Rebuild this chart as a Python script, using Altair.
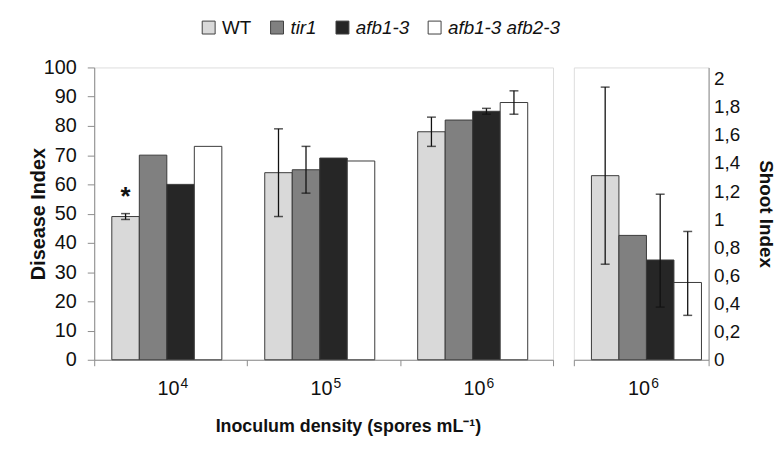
import altair as alt
import pandas as pd

# ---- data ----
genotypes = ["WT", "tir1", "afb1-3", "afb1-3 afb2-3"]
colors = ["#d9d9d9", "#808080", "#262626", "#ffffff"]
densities = ["10⁴", "10⁵", "10⁶"]
density_base = ["10", "10", "10"]
density_exp = ["4", "5", "6"]

disease_wt = [49, 64, 78]
disease_tir1 = [70, 65, 82]
disease_afb = [60, 69, 85]
disease_dbl = [73, 68, 88]

disease_lo_wt = [48, 49, 73]
disease_hi_wt = [50, 79, 83]
disease_lo_tir1 = [None, 57, None]
disease_hi_tir1 = [None, 73, None]
disease_lo_afb = [None, None, 84]
disease_hi_afb = [None, None, 86]
disease_lo_dbl = [None, None, 84]
disease_hi_dbl = [None, None, 92]

shoot_density = "10⁶"
shoot_base = "10"
shoot_exp = "6"
shoot_vals = [1.31, 0.885, 0.71, 0.55]
shoot_lo = [0.68, None, 0.375, 0.316]
shoot_hi = [1.94, None, 1.178, 0.913]

# ---- tables ----
rows = []
series = [
    ("WT", disease_wt, disease_lo_wt, disease_hi_wt),
    ("tir1", disease_tir1, disease_lo_tir1, disease_hi_tir1),
    ("afb1-3", disease_afb, disease_lo_afb, disease_hi_afb),
    ("afb1-3 afb2-3", disease_dbl, disease_lo_dbl, disease_hi_dbl),
]
for g, vals, los, his in series:
    for d, v, lo, hi in zip(densities, vals, los, his):
        rows.append({"density": d, "genotype": g, "value": v, "lo": lo, "hi": hi})
df_left = pd.DataFrame(rows)
df_left_err = df_left.dropna(subset=["lo"])
df_star = df_left[(df_left.genotype == "WT") & (df_left.density == "10⁴")].copy()
df_left_lab = pd.DataFrame({"density": densities, "base": density_base, "exp": density_exp})

df_right = pd.DataFrame({
    "density": [shoot_density] * 4,
    "genotype": genotypes,
    "value": shoot_vals,
    "lo": shoot_lo,
    "hi": shoot_hi,
})
df_right_err = df_right.dropna(subset=["lo"])
df_right_lab = pd.DataFrame({"density": [shoot_density], "base": [shoot_base], "exp": [shoot_exp]})

GRAY = "#8c8c8c"
FONT = "Liberation Sans"
TXT = "#111111"
H = 295

color = alt.Color(
    "genotype:N",
    scale=alt.Scale(domain=genotypes, range=colors),
    legend=alt.Legend(
        title=None, orient="none", direction="horizontal",
        legendX=106, legendY=-50,
        symbolType="square", symbolSize=170, symbolStrokeColor="#404040",
        symbolStrokeWidth=1, symbolOpacity=1,
        labelFontSize=19, labelFont=FONT, labelColor=TXT,
        labelFontStyle=alt.ExprRef("datum.label == 'WT' ? 'normal' : 'italic'"),
        labelOffset=4, columnPadding=16,
    ),
)


def make_panel(df, df_err, df_lab, width, y_scale, y_axis, xoff_scale, x_axis, extra=None):
    x = alt.X("density:N", sort=None, scale=alt.Scale(paddingInner=0, paddingOuter=0), axis=x_axis)
    xo = alt.XOffset("genotype:N", sort=genotypes, scale=xoff_scale)
    bars = alt.Chart(df).mark_bar(stroke="#3a3a3a", strokeWidth=1).encode(
        x=x, xOffset=xo, y=alt.Y("value:Q", scale=y_scale, axis=y_axis), color=color
    )
    eb = alt.Chart(df_err)
    rule = eb.mark_rule(color=TXT, strokeWidth=1.3).encode(
        x=x, xOffset=xo, y=alt.Y("lo:Q", axis=y_axis), y2="hi:Q"
    )
    cap_lo = eb.mark_tick(color=TXT, size=9, thickness=1.5).encode(
        x=x, xOffset=xo, y=alt.Y("lo:Q", axis=y_axis)
    )
    cap_hi = eb.mark_tick(color=TXT, size=9, thickness=1.5).encode(
        x=x, xOffset=xo, y=alt.Y("hi:Q", axis=y_axis)
    )
    lab_base = alt.Chart(df_lab).mark_text(
        fontSize=20, font=FONT, color=TXT, align="right", baseline="alphabetic", dx=9
    ).encode(x=x, y=alt.value(H + 36), text="base:N")
    lab_exp = alt.Chart(df_lab).mark_text(
        fontSize=14, font=FONT, color=TXT, align="left", baseline="alphabetic", dx=10
    ).encode(x=x, y=alt.value(H + 28), text="exp:N")
    layers = [bars, rule, cap_lo, cap_hi, lab_base, lab_exp]
    if extra is not None:
        layers.append(extra(x, xo, y_axis))
    return alt.layer(*layers).properties(width=width, height=H)


x_axis_common = dict(
    labels=False, tickBand="extent", tickSize=6, tickColor=GRAY, domainColor=GRAY,
)
left_x_axis = alt.Axis(
    title="Inoculum density (spores mL⁻¹)", titleFontSize=18, titleFont=FONT,
    titleFontWeight="bold", titleColor=TXT, titlePadding=52, titleX=256,
    **x_axis_common,
)
right_x_axis = alt.Axis(title=None, **x_axis_common)

left_y_axis = alt.Axis(
    title="Disease Index", titleFontSize=20, titleFont=FONT, titleFontWeight="bold",
    titleColor=TXT, titlePadding=-5, values=list(range(0, 101, 10)), grid=False,
    labelOverlap=False, labelFontSize=20, labelFont=FONT, labelColor=TXT,
    tickSize=7, tickColor=GRAY, domainColor=GRAY, labelPadding=11,
)
right_y_axis = alt.Axis(
    orient="right", title="Shoot Index", titleFontSize=19, titleFont=FONT,
    titleFontWeight="bold", titleColor=TXT, titlePadding=16,
    values=[0, 0.2, 0.4, 0.6, 0.8, 1, 1.2, 1.4, 1.6, 1.8, 2], grid=False,
    labelExpr="replace(format(datum.value, '.1~f'), '.', ',')", labelOverlap=False,
    labelFontSize=19, labelFont=FONT, labelColor=TXT, ticks=False,
    domainColor=GRAY, labelPadding=5,
)


def star_layer(x, xo, y_axis):
    return alt.Chart(df_star).transform_calculate(ypos="datum.hi + 5.5").mark_text(
        text="*", fontSize=26, fontWeight="bold", font=FONT, color=TXT, baseline="middle"
    ).encode(x=x, xOffset=xo, y=alt.Y("ypos:Q", axis=y_axis))


left = make_panel(
    df_left, df_left_err, df_left_lab, 463,
    alt.Scale(domain=[0, 100], nice=False), left_y_axis,
    alt.Scale(paddingInner=0, paddingOuter=0.78), left_x_axis, extra=star_layer,
)
right = make_panel(
    df_right, df_right_err, df_right_lab, 136,
    alt.Scale(domain=[0, 2.08], nice=False), right_y_axis,
    alt.Scale(paddingInner=0, paddingOuter=0.65, align=0.41), right_x_axis,
)

chart = alt.hconcat(left, right, spacing=19).resolve_scale(y="independent").properties(
    padding={"left": 20, "top": 8, "right": 0, "bottom": 5}
).configure_view(stroke=GRAY, strokeWidth=1).configure(font=FONT)

chart.save("out.html", embed_options={"renderer": "svg", "actions": False})
